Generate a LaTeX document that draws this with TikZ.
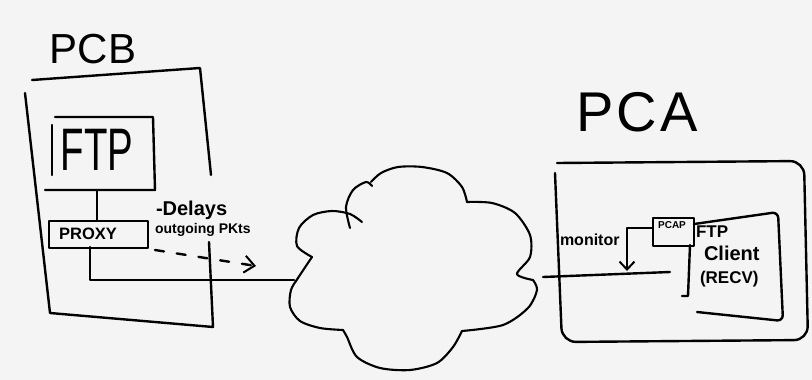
\documentclass[tikz,border=0pt]{standalone}
\usepackage{fontspec}
\usepackage{graphicx}
\setmainfont{Liberation Sans}
\usetikzlibrary{arrows.meta}
\definecolor{bgc}{HTML}{F4F4F4}
\begin{document}
\begin{tikzpicture}[x=1pt,y=-1pt,
  pen/.style={line width=2.4pt, line cap=round, line join=round, black},
  cloudpen/.style={line width=2.1pt, line cap=round, line join=round, black},
  thinpen/.style={line width=1.9pt, line cap=round, line join=round, black},
  hand/.style={inner sep=0pt, outer sep=0pt},
  barbbig/.tip={Straight Barb[length=10pt,width=17pt,line width=2pt]},
  barbsmall/.tip={Straight Barb[length=8pt,width=15pt,line width=2pt]}
]
\fill[bgc] (0,0) rectangle (812,380);
\useasboundingbox (0,0) rectangle (812,380);

% ---------- PC B ----------
\node[hand, font=\fontsize{42}{42}\selectfont] (pcbt) at (93,49) {PCB};
\draw[pen] (32,80) -- (200,68) -- (211,175);
\draw[pen] (25,93) -- (50,313) -- (213,327) -- (209,242);

% FTP server box (open on the left)
\draw[pen] (55,117) -- (153,117) -- (155,190) -- (45,190);
\draw[pen] (52,125) -- (52,175);
\node[hand, font=\fontsize{60}{60}\selectfont] (ftp) at (97,150) {\scalebox{0.64}[1]{FTP}};
\coordinate (ftpb) at (97,190);

% proxy
\node[draw, thinpen, anchor=north west, minimum width=99pt, minimum height=27pt, inner sep=0pt] (proxy) at (48,220) {};
\node[hand, font=\bfseries\fontsize{16.5}{16.5}\selectfont] (proxyt) at (88,234) {PROXY};
\draw[pen] (ftpb) -- (ftpb |- proxy.north);

\node[hand, anchor=west, font=\bfseries\fontsize{20}{20}\selectfont] (delay) at (156,210) {-Delays};
\node[hand, anchor=west, font=\bfseries\fontsize{14}{14}\selectfont] (outg) at (155,230) {outgoing PKts};

\coordinate (pxo) at (90,247);
\coordinate (cl) at (294,280);
\draw[pen] (pxo) |- (cl);

\coordinate (dst) at (155,250);
\coordinate (dend) at (256,266);
\draw[pen, dash pattern=on 9pt off 13pt, -{barbbig}] (dst) -- (dend);

% ---------- cloud ----------
\draw[cloudpen] plot[smooth] coordinates {(312,257) (297,246) (299,228) (313,215) (332,211) (350,214) (362,222)};
\draw[cloudpen] plot[smooth] coordinates {(350,228) (346,207) (353,190) (366,182) (372,186)};
\draw[cloudpen] plot[smooth] coordinates {(371,182) (381,173) (398,167) (422,167) (447,173) (462,187) (467,202)};
\draw[cloudpen] plot[smooth] coordinates {(467,202) (492,203) (515,213) (530,235) (530,257) (517,274) (533,280)};
\draw[cloudpen] plot[smooth] coordinates {(533,280) (537,290) (528,308) (503,325) (462,331)};
\draw[cloudpen] plot[smooth] coordinates {(462,331) (453,347) (437,363) (410,370) (380,368) (357,357) (347,337) (343,330)};
\draw[cloudpen] plot[smooth] coordinates {(343,330) (320,328) (300,321) (290,307) (291,290) (298,278) (312,257)};
\coordinate (cr) at (543,277);

% ---------- PC A ----------
\node[hand, font=\fontsize{56}{56}\selectfont\addfontfeatures{LetterSpace=6}] (pcat) at (637,112) {PCA};
\draw[pen, rounded corners=14pt] (555,173) -- (562,342) -- (808,340) -- (804,161) -- (557,163);

\coordinate (lanend) at (670,272);
\draw[pen] (cr) -- (lanend);

\node[draw, thinpen, anchor=north west, minimum width=41pt, minimum height=28pt, inner sep=0pt] (pcap) at (652,217) {};
\node[hand, font=\bfseries\fontsize{10}{10}\selectfont] (pcapt) at (672,225) {PCAP};

\node[hand, anchor=west, font=\bfseries\fontsize{16}{16}\selectfont] (mont) at (560,240) {monitor};
\coordinate (pcapw) at (652,228);
\coordinate (mon) at (627,271);
\draw[pen, -{barbsmall}] (pcapw) -| (mon);

% FTP client box
\draw[pen] (690,245) -- (688,296) -- (682,296);
\draw[pen, rounded corners=6pt] (694,224) -- (778,212) -- (783,321) -- (697,312);
\node[hand, anchor=north west, align=left, font=\bfseries\fontsize{17}{23}\selectfont] (cli) at (696,226) {FTP\\\hspace*{8pt}{\fontsize{20}{23}\selectfont Client}\\\hspace*{4pt}(RECV)};
\end{tikzpicture}
\end{document}
